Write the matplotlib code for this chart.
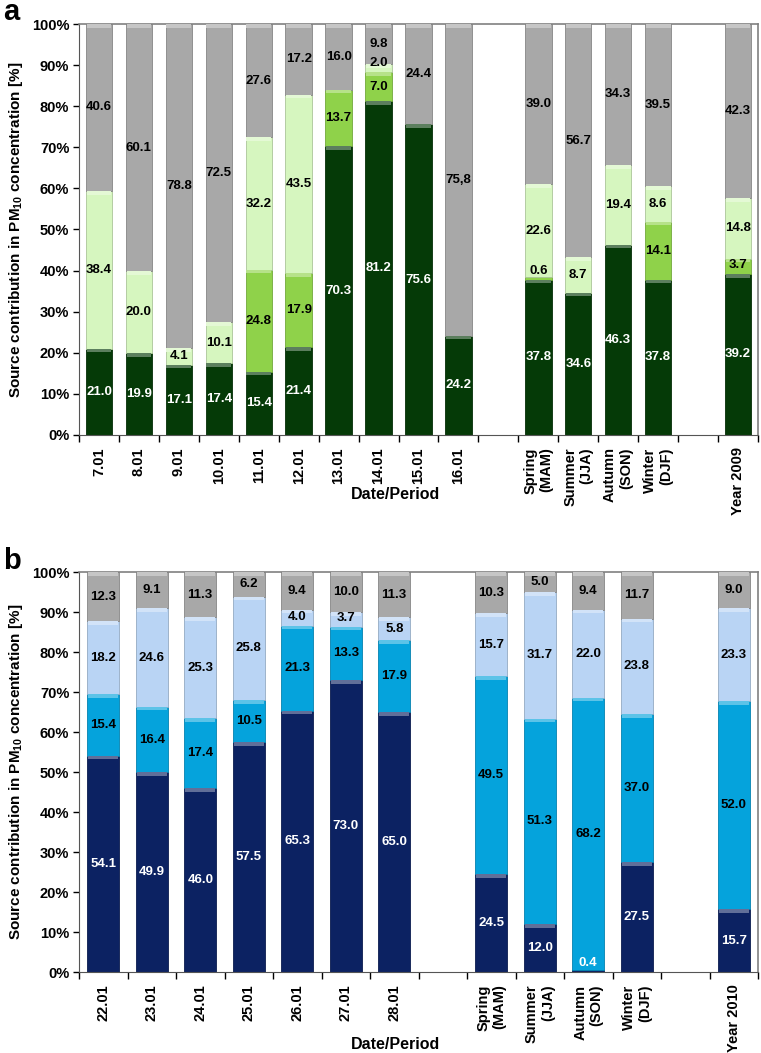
import numpy as np
import matplotlib
matplotlib.use("Agg")
import matplotlib.pyplot as plt
from matplotlib.colors import to_rgb

plt.rcParams["font.family"] = ["Liberation Sans", "DejaVu Sans"]
plt.rcParams["font.weight"] = "bold"
plt.rcParams["mathtext.fontset"] = "custom"
plt.rcParams["mathtext.rm"] = "Liberation Sans:bold"
plt.rcParams["mathtext.bf"] = "Liberation Sans:bold"
plt.rcParams["mathtext.it"] = "Liberation Sans:bold"

# ---- panel a (2009) ----
labels_a = ["7.01", "8.01", "9.01", "10.01", "11.01", "12.01", "13.01", "14.01",
            "15.01", "16.01", "", "Spring\n(MAM)", "Summer\n(JJA)", "Autumn\n(SON)",
            "Winter\n(DJF)", "", "Year 2009"]
a_dark = [21.0, 19.9, 17.1, 17.4, 15.4, 21.4, 70.3, 81.2, 75.6, 24.2, 0,
          37.8, 34.6, 46.3, 37.8, 0, 39.2]
a_mid = [0, 0, 0, 0, 24.8, 17.9, 13.7, 7.0, 0, 0, 0,
         0.6, 0, 0, 14.1, 0, 3.7]
a_light = [38.4, 20.0, 4.1, 10.1, 32.2, 43.5, 0, 2.0, 0, 0, 0,
           22.6, 8.7, 19.4, 8.6, 0, 14.8]
a_gray = [40.6, 60.1, 78.8, 72.5, 27.6, 17.2, 16.0, 9.8, 24.4, 75.8, 0,
          39.0, 56.7, 34.3, 39.5, 0, 42.3]

# ---- panel b (2010) ----
labels_b = ["22.01", "23.01", "24.01", "25.01", "26.01", "27.01", "28.01", "",
            "Spring\n(MAM)", "Summer\n(JJA)", "Autumn\n(SON)", "Winter\n(DJF)", "",
            "Year 2010"]
b_navy = [54.1, 49.9, 46.0, 57.5, 65.3, 73.0, 65.0, 0,
          24.5, 12.0, 0.4, 27.5, 0, 15.7]
b_cyan = [15.4, 16.4, 17.4, 10.5, 21.3, 13.3, 17.9, 0,
          49.5, 51.3, 68.2, 37.0, 0, 52.0]
b_light = [18.2, 24.6, 25.3, 25.8, 4.0, 3.7, 5.8, 0,
           15.7, 31.7, 22.0, 23.8, 0, 23.3]
b_gray = [12.3, 9.1, 11.3, 6.2, 9.4, 10.0, 11.3, 0,
          10.3, 5.0, 9.4, 11.7, 0, 9.0]

# the original uses a decimal comma on this one label
label_fix = {("a", 9, 3): "75,8"}


def lighten(c, f):
    r, g, b = to_rgb(c)
    return (r + (1 - r) * f, g + (1 - g) * f, b + (1 - b) * f)


def stacked_panel(ax, key, labels, series, colors, text_colors):
    n = len(labels)
    x = np.arange(n)
    bottom = np.zeros(n)
    for si, (vals, col, tcol) in enumerate(zip(series, colors, text_colors)):
        vals = np.asarray(vals, dtype=float)
        ax.bar(x, vals, bottom=bottom, width=0.66, color=col,
               edgecolor=tuple(0.8 * v for v in to_rgb(col)),
               linewidth=0.6, zorder=2)
        # small bevel highlight at top of every segment
        for i in range(n):
            if vals[i] >= 1.5:
                ax.bar(x[i], 0.9, bottom=bottom[i] + vals[i] - 0.9, width=0.62,
                       color=lighten(col, 0.35), linewidth=0, zorder=3)
        for i in range(n):
            if vals[i] <= 0:
                continue
            yc = max(bottom[i] + vals[i] / 2, bottom[i] + 2.2)
            txt = label_fix.get((key, i, si), f"{vals[i]:.1f}")
            ax.text(x[i], yc, txt, ha="center", va="center", fontsize=9.5,
                    fontweight="bold", color=tcol, zorder=4)
        bottom = bottom + vals

    ax.set_xlim(-0.5, n - 0.5)
    ax.set_ylim(0, 100)
    ax.set_yticks(np.arange(0, 101, 10))
    ax.set_yticklabels([f"{v}%" for v in range(0, 101, 10)], fontsize=10.5,
                       fontweight="bold")
    ax.tick_params(axis="y", direction="out", length=4, width=1, pad=3)

    # tick marks at slot boundaries, labels at slot centres
    ax.set_xticks(np.arange(n + 1) - 0.5)
    ax.set_xticklabels([])
    ax.tick_params(axis="x", which="major", direction="out", length=5, width=1)
    ax.set_xticks(x, minor=True)
    ax.set_xticklabels(labels, minor=True, rotation=90, fontsize=10.5,
                       fontweight="bold", va="top", ha="center",
                       multialignment="right")
    ax.tick_params(axis="x", which="minor", length=0, pad=9)

    for side in ["top", "right"]:
        ax.spines[side].set_color("#808080")
        ax.spines[side].set_linewidth(1.2)
    ax.spines["left"].set_color("#555555")
    ax.spines["bottom"].set_color("#555555")

    ax.set_ylabel("Source contribution in PM$_{10}$ concentration [%]",
                  fontsize=11, fontweight="bold")
    ax.yaxis.set_label_coords(-0.08, 0.5)
    ax.set_xlabel("Date/Period", fontsize=11.5, fontweight="bold")


fig = plt.figure(figsize=(7.61, 10.53), dpi=100)
W, H = 761, 1053
ax_a = fig.add_axes([79 / W, 1 - 435 / H, (758 - 79) / W, (435 - 24) / H])
ax_b = fig.add_axes([79 / W, 1 - 972 / H, (758 - 79) / W, (972 - 572) / H])

gray = "#a8a8a8"
stacked_panel(ax_a, "a", labels_a, [a_dark, a_mid, a_light, a_gray],
              ["#053a07", "#8fd24a", "#d6f6bf", gray],
              ["white", "black", "black", "black"])
ax_a.xaxis.set_label_coords(0.466, -0.127)

stacked_panel(ax_b, "b", labels_b, [b_navy, b_cyan, b_light, b_gray],
              ["#0c2262", "#05a3dc", "#b9d4f4", gray],
              ["white", "black", "black", "black"])
ax_b.xaxis.set_label_coords(0.466, -0.1625)

fig.text(3 / W, 1 - 20 / H, "a", fontsize=21, fontweight="bold", va="baseline")
fig.text(3 / W, 1 - 569 / H, "b", fontsize=21, fontweight="bold", va="baseline")

fig.savefig("out.png", dpi=100)
